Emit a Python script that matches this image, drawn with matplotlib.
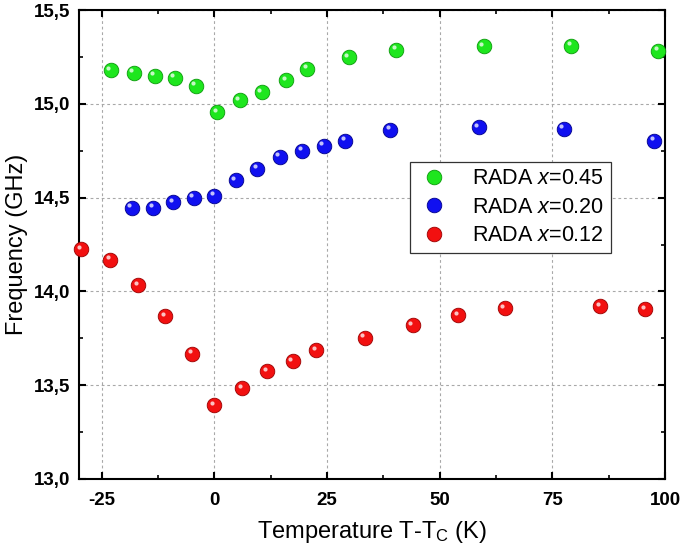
import matplotlib
matplotlib.use("Agg")
import matplotlib.pyplot as plt
import matplotlib.transforms as mtransforms
from matplotlib.ticker import FuncFormatter, MultipleLocator

# data
t_045 = [-22.9, -17.8, -13.2, -8.8, -4.1, 0.7, 5.7, 10.6, 16.0, 20.6, 29.9, 40.4, 59.8, 79.2, 98.5]
f_045 = [15.178, 15.165, 15.149, 15.139, 15.096, 14.954, 15.018, 15.062, 15.126, 15.187, 15.249, 15.288,
         15.306, 15.309, 15.283]

t_020 = [-18.3, -13.5, -9.1, -4.5, 0.0, 4.8, 9.5, 14.5, 19.5, 24.3, 29.1, 39.1, 58.7, 77.6, 97.6]
f_020 = [14.447, 14.447, 14.475, 14.498, 14.511, 14.593, 14.653, 14.717, 14.751, 14.776, 14.803, 14.861,
         14.876, 14.868, 14.804]

t_012 = [-29.5, -23.1, -16.9, -10.9, -4.9, 0.0, 6.2, 11.8, 17.4, 22.6, 33.4, 44.0, 54.1, 64.5, 85.7, 95.6]
f_012 = [14.226, 14.169, 14.034, 13.867, 13.668, 13.392, 13.485, 13.575, 13.627, 13.686, 13.753, 13.819,
         13.872, 13.911, 13.920, 13.906]

series = [
    (t_045, f_045, "0.45", "#1ee61e", "#0a9a0a"),
    (t_020, f_020, "0.20", "#1010f0", "#00008a"),
    (t_012, f_012, "0.12", "#f21010", "#9a0000"),
]

plt.rcParams.update(
    {
        "font.family": ["Liberation Sans", "DejaVu Sans"],
        "mathtext.fontset": "custom",
        "mathtext.rm": "Liberation Sans",
        "mathtext.it": "Liberation Sans:italic",
        "axes.unicode_minus": False,
        "xtick.direction": "in",
        "ytick.direction": "in",
        "xtick.top": True,
        "ytick.right": True,
    }
)

fig = plt.figure(figsize=(6.82, 5.51), dpi=100)
ax = fig.add_axes([0.1158, 0.1307, 0.8592, 0.8511])

highlight = mtransforms.offset_copy(ax.transData, fig=fig, x=-1.8, y=1.8, units="points")

for t, f, xval, color, edge in series:
    ax.plot(t, f, linestyle="none", marker="o", markersize=10.5, markerfacecolor=color,
            markeredgecolor=edge, markeredgewidth=0.6, label=f"RADA $\\mathit{{x}}$={xval}",
            zorder=3, clip_on=False)
    ax.plot(t, f, linestyle="none", marker="o", markersize=3, markerfacecolor="white",
            markeredgewidth=0, alpha=0.75, transform=highlight, zorder=4, clip_on=False)

ax.set_xlim(-30, 100)
ax.set_ylim(13.0, 15.5)
ax.xaxis.set_major_locator(MultipleLocator(25))
ax.xaxis.set_minor_locator(MultipleLocator(12.5))
ax.yaxis.set_major_locator(MultipleLocator(0.5))
ax.yaxis.set_minor_locator(MultipleLocator(0.25))
ax.yaxis.set_major_formatter(FuncFormatter(lambda v, pos: f"{v:.1f}".replace(".", ",")))

ax.grid(True, which="major", color="#a8a8a8", linestyle=(0, (2.5, 2.5)), linewidth=0.8)
ax.set_axisbelow(True)

for side in ax.spines.values():
    side.set_linewidth(1.5)
ax.tick_params(which="major", length=5, width=1.5)
ax.tick_params(which="minor", length=3, width=1.2)
ax.tick_params(axis="x", which="major", pad=9.5)
ax.tick_params(axis="y", which="major", pad=6.5)
for lbl in ax.get_xticklabels() + ax.get_yticklabels():
    lbl.set_fontweight("bold")
    lbl.set_fontsize(13.5)

ax.set_xlabel("Temperature T-T$_\\mathregular{C}$ (K)", fontsize=17, labelpad=7)
ax.set_ylabel("Frequency (GHz)", fontsize=17, labelpad=4)

leg = ax.legend(loc="upper left", bbox_to_anchor=(0.565, 0.676), fontsize=15.5, frameon=True,
                fancybox=False, edgecolor="#333333", framealpha=1.0, handletextpad=1.0,
                borderpad=0.3, labelspacing=0.35, handlelength=1.6, borderaxespad=0)
leg.get_frame().set_linewidth(0.9)

fig.savefig("out.png", dpi=100)
